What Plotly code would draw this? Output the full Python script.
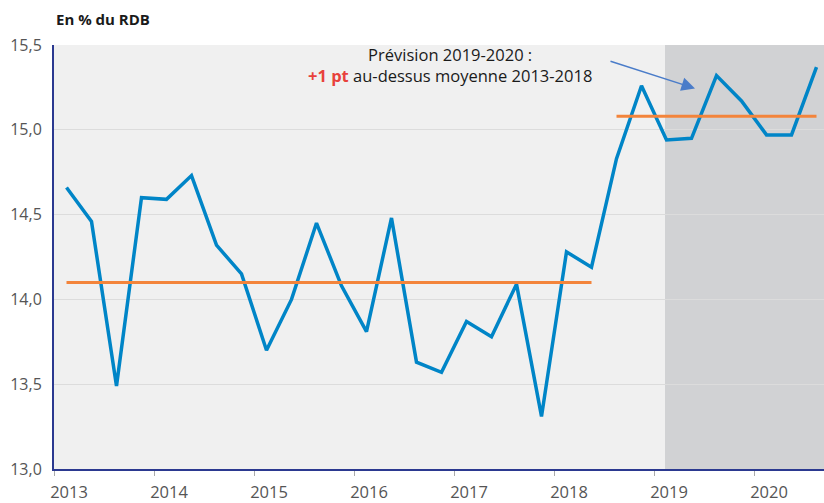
import plotly.graph_objects as go

# trimestres et taux d'epargne (en % du RDB)
quarters = ["2013T1", "2013T2", "2013T3", "2013T4",
            "2014T1", "2014T2", "2014T3", "2014T4",
            "2015T1", "2015T2", "2015T3", "2015T4",
            "2016T1", "2016T2", "2016T3", "2016T4",
            "2017T1", "2017T2", "2017T3", "2017T4",
            "2018T1", "2018T2", "2018T3", "2018T4",
            "2019T1", "2019T2", "2019T3", "2019T4",
            "2020T1", "2020T2", "2020T3"]
taux = [14.66, 14.46, 13.49, 14.60,
        14.59, 14.73, 14.32, 14.15,
        13.70, 14.00, 14.45, 14.08,
        13.81, 14.48, 13.63, 13.57,
        13.87, 13.78, 14.09, 13.31,
        14.28, 14.19, 14.83, 15.26,
        14.94, 14.95, 15.32, 15.17,
        14.97, 14.97, 15.37]

moy_2013_2018 = 14.10
moy_quarters_1 = ["2013T1", "2018T2"]
prev_2019_2020 = 15.08
moy_quarters_2 = ["2018T3", "2020T3"]

year_ticks = [2013, 2014, 2015, 2016, 2017, 2018, 2019, 2020]
y_ticks = [13.0, 13.5, 14.0, 14.5, 15.0, 15.5]


def qpos(q):
    # milieu du trimestre sur un axe en annees
    return int(q[:4]) + (int(q[-1]) - 0.5) / 4


x = [qpos(q) for q in quarters]

fig = go.Figure()
fig.add_trace(go.Scatter(x=x, y=taux, mode="lines",
                         line=dict(color="#0085c7", width=3.5)))
fig.add_trace(go.Scatter(x=[qpos(q) for q in moy_quarters_1],
                         y=[moy_2013_2018] * 2, mode="lines",
                         line=dict(color="#f3843b", width=3)))
fig.add_trace(go.Scatter(x=[qpos(q) for q in moy_quarters_2],
                         y=[prev_2019_2020] * 2, mode="lines",
                         line=dict(color="#f3843b", width=3)))

# zone de prevision
fig.add_shape(type="rect", xref="x", yref="paper",
              x0=qpos("2019T1") - 0.015, x1=2020.7, y0=0, y1=1,
              fillcolor="#d1d2d4", line_width=0, layer="between")

fig.add_annotation(x=2019.41, y=15.244, ax=2018.55, ay=15.407,
                   xref="x", yref="y", axref="x", ayref="y",
                   text="", showarrow=True, arrowhead=2, arrowsize=1.8,
                   arrowwidth=1.5, arrowcolor="#4a7cc9")
fig.add_annotation(x=2016.96, y=15.5, xref="x", yref="y",
                   text="Prévision 2019-2020 :<br>"
                        "<span style='color:#e8413c'><b>+1 pt</b></span>"
                        " au-dessus moyenne 2013-2018",
                   showarrow=False, xanchor="center", yanchor="top",
                   yshift=4, align="center",
                   font=dict(size=16.5, color="#1a1a1a"))
fig.add_annotation(x=0, y=1, xref="paper", yref="paper",
                   text="<b>En % du RDB</b>", showarrow=False,
                   xanchor="left", yanchor="bottom", yshift=14,
                   font=dict(size=15, color="#1a1a1a"))

fig.update_layout(
    width=824,
    height=503,
    margin_l=54,
    margin_r=0,
    margin_t=45,
    margin_b=29,
    showlegend=False,
    separators=", ",
    paper_bgcolor="white",
    plot_bgcolor="#f0f0f0",
    font=dict(family="Open Sans", size=15, color="#555555"),
    xaxis=dict(range=[2013, 2020.7], tickvals=year_ticks,
               ticktext=[str(y) for y in year_ticks],
               ticks="outside", ticklen=5, tickcolor="#aaaaaa",
               ticklabelshift=15, ticklabelstandoff=2,
               showgrid=False, showline=True, linecolor="#2b3990",
               linewidth=2, zeroline=False, tickfont=dict(size=16.5)),
    yaxis=dict(range=[13.0, 15.5], tickvals=y_ticks, tickformat=".1f",
               showgrid=True, gridcolor="#dcdcdc", gridwidth=1,
               showline=True, linecolor="#2b3990", linewidth=2,
               zeroline=False, ticks="", ticklabelstandoff=7,
               tickfont=dict(size=16)),
)

# pas de barre d'outils, pas de marge de page autour de la figure
fig.write_html("out.html", config={"displayModeBar": False},
               post_script="document.body.style.margin = '0';")
